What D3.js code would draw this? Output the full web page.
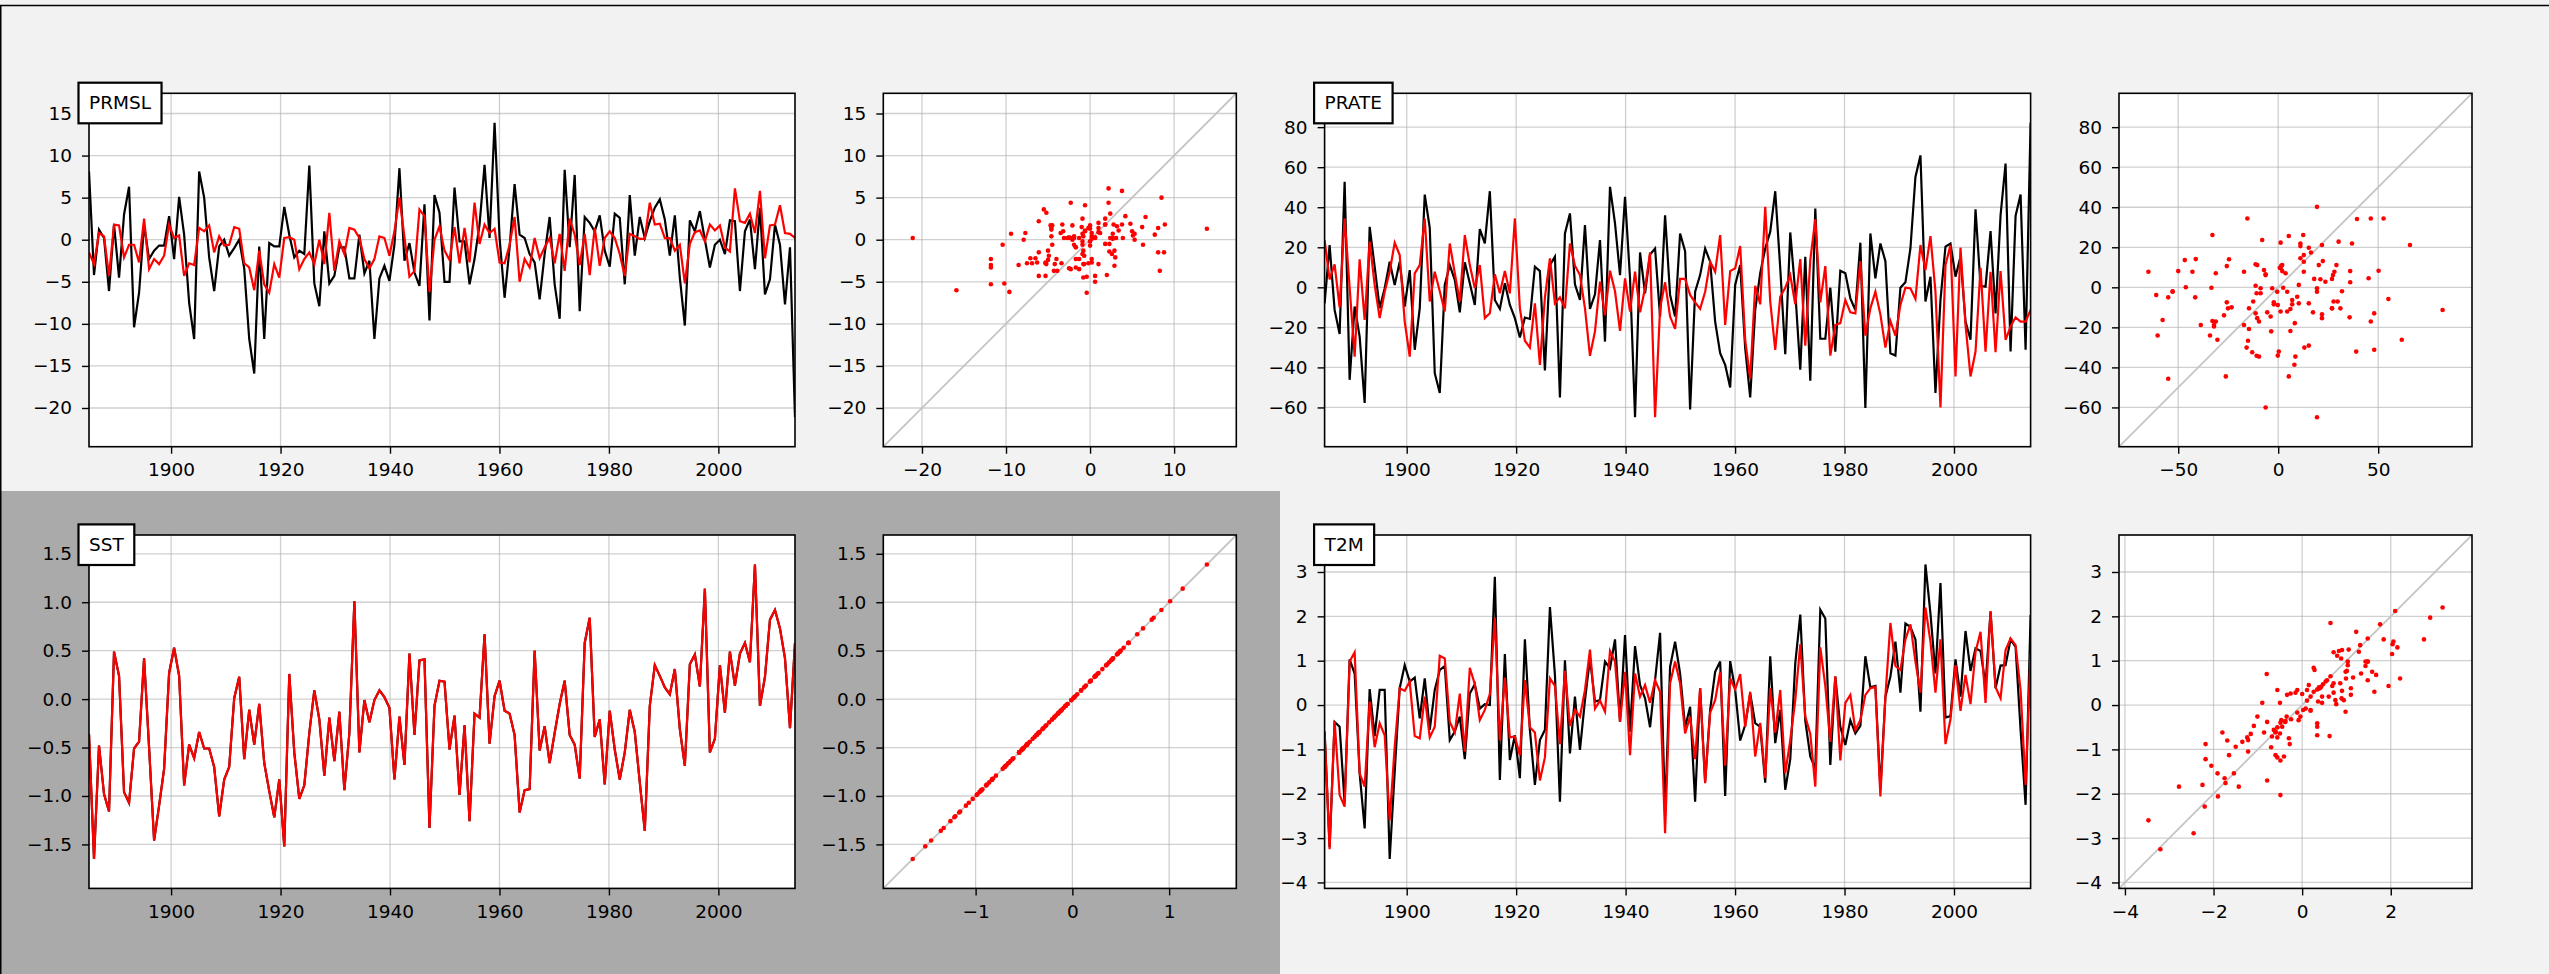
<!DOCTYPE html>
<html>
<head>
<meta charset="utf-8">
<script src="https://cdn.jsdelivr.net/npm/d3@7"></script>
<style>
  html, body { margin: 0; padding: 0; background: #f2f2f2; }
  svg { display: block; font-family: "DejaVu Sans", sans-serif; }
</style>
</head>
<body>
<svg id="fig" width="2549" height="974"></svg>
<script>
// ---- time axis: evenly spaced samples between these two years ----
const YEAR_START = 1885;
const YEAR_END = 2014;

// ---- sea-level pressure anomaly: observed (black) and model (red) ----
const prmslObs = [
  8.1, -4.2, 1.2, 0.2, -6.1, 1.8, -4.5, 3.0, 6.3, -10.4,
  -6.3, 1.8, -2.3, -1.3, -0.7, -0.7, 2.8, -2.3, 5.1, 0.6,
  -7.5, -11.8, 8.1, 5.0, -2.1, -6.1, -0.8, 0.0, -1.9, -1.0,
  0.0, -3.4, -11.8, -15.9, -0.8, -11.8, -0.4, -0.8, -0.8, 3.9,
  0.6, -2.1, -1.3, -1.7, 8.8, -5.2, -7.9, 1.0, -5.2, -4.3,
  -0.9, -0.9, -4.6, -4.6, 0.6, -4.0, -2.5, -11.8, -4.6, -3.1,
  -4.9, -0.6, 8.5, -2.5, -0.4, -3.9, -5.5, 4.2, -9.6, 5.3,
  3.2, -5.0, -5.0, 6.2, -0.2, -0.2, -5.3, -2.3, 1.8, 8.9,
  0.2, 13.9, 0.2, -6.9, -0.9, 6.6, 0.6, 0.2, -1.7, -2.7,
  -7.1, -1.7, 2.7, -5.3, -9.4, 8.3, -0.9, 7.7, -8.5, 2.7,
  2.0, 1.0, 2.9, -1.3, -3.2, 3.1, 2.6, -5.3, 5.3, -1.9,
  2.7, 0.2, 2.2, 3.8, 4.8, 2.4, -1.9, 2.9, -4.5, -10.2,
  2.3, 1.0, 3.4, 0.0, -3.3, -0.6, 0.0, -1.7, 2.3, 2.2,
  -6.1, 1.0, 2.4, -3.5, 3.8, -6.5, -4.7, 1.8, -0.6, -7.7,
  -0.9, -21.1
];
const prmslMod = [
  -1.5, -2.9, 0.8, 0.4, -4.3, 1.8, 1.7, -2.1, -0.6, -0.6,
  -2.7, 2.5, -3.5, -2.3, -2.9, -1.9, 1.8, 0.2, 0.5, -4.3,
  -2.8, -3.0, 1.4, 1.0, 1.7, -1.5, 0.4, -0.7, -0.6, 1.5,
  1.3, -2.8, -3.3, -6.0, -1.3, -5.3, -6.3, -2.9, -4.5, 0.2,
  0.3, 0.0, -3.5, -2.3, -1.5, -2.9, 0.0, -2.9, 3.2, -3.7,
  -0.2, -1.7, 1.4, 1.2, 0.2, -2.3, -3.4, -2.3, 0.4, 0.2,
  -1.9, 1.0, 5.0, 0.3, -4.4, -3.7, 3.6, 2.8, -6.2, 0.0,
  1.6, -1.3, -2.4, 1.5, -2.8, 1.4, -2.7, 4.4, -0.5, 1.8,
  0.8, 1.3, -2.7, -2.8, -0.6, 2.7, -5.0, -2.3, -3.3, 0.2,
  -2.2, -0.9, 0.2, -2.8, 0.7, -3.7, 2.5, 0.6, -3.0, 0.7,
  -4.2, 1.4, -3.1, 0.2, 1.0, 0.2, -1.7, -4.3, 0.7, 0.4,
  0.1, 0.1, 4.4, 1.8, 1.9, 0.2, 0.2, -1.3, -0.6, -5.2,
  -0.5, 0.9, 1.1, -0.2, 1.8, 1.1, 1.7, -0.9, -1.4, 6.1,
  2.2, 2.0, 3.1, 0.8, 5.8, -2.2, 1.7, 1.8, 4.1, 0.8,
  0.7, 0.2
];

// ---- precipitation rate anomaly ----
const prateObs = [
  -8.0, 21.1, -11.3, -23.3, 52.7, -46.2, -9.6, -24.6, -57.8, 30.2,
  10.3, -10.5, -0.5, 12.8, 1.2, 12.8, -9.6, 8.6, -31.2, -10.5,
  46.3, 29.7, -42.9, -52.8, 1.2, 11.1, 3.7, -12.5, 12.5, 2.0,
  -8.8, 29.1, 21.9, 48.0, -6.3, -10.8, 2.0, -8.8, -15.4, -25.1,
  -15.1, -15.8, 10.3, 8.1, -41.5, 11.1, 15.3, -55.0, 26.9, 36.9,
  1.5, -6.3, 31.1, -10.8, -3.5, 23.6, -27.1, 50.2, 31.9, 6.1,
  45.2, 4.5, -64.9, 17.4, -3.0, 16.4, 19.4, -14.6, 36.0, -3.8,
  -14.6, 26.9, 18.0, -61.0, -2.2, 6.1, 19.4, 12.8, -17.1, -32.9,
  -38.7, -50.0, 1.2, 11.1, -30.4, -55.0, -11.3, 7.0, 19.4, 27.7,
  48.0, 9.5, -33.4, 27.4, -2.2, -41.2, 15.3, -46.7, 39.4, -25.7,
  -25.7, -0.2, -32.1, 8.3, 7.0, -5.5, -11.3, 22.3, -60.3, 26.9,
  4.5, 21.9, 13.1, -32.9, -34.1, -0.2, 2.5, 19.4, 55.1, 65.9,
  -7.1, 5.3, -52.8, -6.3, 20.3, 21.9, 5.3, 15.3, -17.1, -26.2,
  39.0, 0.8, 0.3, 28.1, -13.0, 36.0, 61.8, -32.1, 35.7, 46.3,
  -31.2, 82.2
];
const prateMod = [
  23.6, 4.0, 11.5, -10.0, 34.4, 0.0, -34.6, 14.0, -16.3, 22.8,
  1.2, -15.4, -2.2, 7.8, 22.3, 16.1, -17.1, -34.6, 7.0, 11.1,
  34.4, -7.1, 7.8, -2.0, -12.1, 21.9, 7.0, -7.1, 26.1, 11.1,
  -0.5, 11.1, -15.4, -13.0, 6.5, -3.0, 8.1, -3.0, 34.4, -10.5,
  -26.7, -30.1, -8.0, -38.7, -5.0, 14.5, -8.0, -5.0, -10.5, 21.9,
  10.8, 6.1, -10.5, -34.2, -22.0, 2.8, -14.0, 8.3, -2.0, -21.8,
  4.5, -12.1, 7.8, -12.5, -0.5, 17.4, -64.9, -10.5, 2.5, -14.6,
  -20.8, 4.2, 4.2, -3.8, -7.5, -10.8, -2.2, 12.8, 7.8, 26.1,
  -18.8, 8.1, 9.5, 20.6, -26.2, -45.7, 0.8, -8.5, 40.2, -7.1,
  -31.2, -4.7, -0.2, 6.1, -8.5, 14.1, -29.1, 13.6, 34.1, -7.5,
  10.6, -34.1, -18.8, -17.9, -6.3, -12.5, -13.0, 13.1, -24.1, -10.5,
  -2.2, -13.5, -30.1, -16.8, -24.1, -8.8, -0.2, -0.5, -5.8, 21.1,
  8.6, 25.6, -2.2, -60.0, 11.1, 21.1, -44.5, 19.8, -18.8, -44.5,
  -32.1, 9.8, -32.1, 7.8, -32.4, 8.1, -26.2, -19.6, -15.0, -17.1,
  -17.1, -11.3
];

// ---- sea surface temperature anomaly (model reproduces the observations) ----
const sstObs = [
  -0.36, -1.65, -0.48, -0.98, -1.16, 0.49, 0.24, -0.96, -1.07, -0.51,
  -0.44, 0.42, -0.50, -1.46, -1.10, -0.72, 0.27, 0.53, 0.24, -0.89,
  -0.47, -0.61, -0.34, -0.51, -0.51, -0.70, -1.21, -0.83, -0.70, 0.01,
  0.23, -0.62, -0.11, -0.47, -0.05, -0.66, -0.95, -1.22, -0.83, -1.52,
  0.26, -0.55, -1.03, -0.89, -0.35, 0.09, -0.21, -0.79, -0.19, -0.64,
  -0.13, -0.94, -0.35, 1.01, -0.55, -0.01, -0.24, -0.01, 0.09, 0.02,
  -0.09, -0.83, -0.18, -0.68, 0.47, -0.37, 0.40, 0.41, -1.33, -0.07,
  0.19, 0.18, -0.52, -0.17, -0.99, -0.27, -1.26, -0.15, -0.19, 0.67,
  -0.46, 0.03, 0.19, -0.12, -0.15, -0.37, -1.17, -0.94, -0.93, 0.50,
  -0.53, -0.28, -0.66, -0.35, -0.05, 0.19, -0.37, -0.47, -0.82, 0.58,
  0.84, -0.39, -0.21, -0.88, -0.12, -0.52, -0.83, -0.55, -0.11, -0.34,
  -0.86, -1.36, -0.07, 0.35, 0.24, 0.12, 0.05, 0.31, -0.31, -0.69,
  0.36, 0.46, 0.13, 1.14, -0.55, -0.41, 0.35, -0.14, 0.49, 0.14,
  0.47, 0.58, 0.38, 1.39, -0.07, 0.23, 0.82, 0.92, 0.73, 0.42,
  -0.30, 0.58
];
const sstMod = sstObs.slice();

// ---- 2 m air temperature anomaly ----
const t2mObs = [
  -0.60, -3.20, -0.38, -0.49, -2.20, 1.03, 0.71, -1.54, -2.78, 0.36,
  -0.70, 0.34, 0.34, -3.47, -1.50, 0.38, 0.90, 0.53, 0.62, -0.30,
  0.60, -0.56, 0.34, 0.79, 0.88, -0.79, -0.60, -0.26, -1.22, 0.26,
  0.47, -0.08, 0.02, 0.00, 2.89, -1.69, 1.15, -1.24, -0.68, -1.65,
  1.48, -0.56, -1.80, -0.79, -0.56, 2.21, 0.68, -2.18, 1.01, -1.09,
  0.19, -1.01, 0.11, 1.05, 0.08, 0.11, 0.98, 0.83, 1.48, -0.38,
  1.58, -0.60, 1.33, 0.45, 0.15, -0.50, 0.56, 1.63, -2.45, 0.86,
  1.43, 0.71, -0.50, -0.04, -2.18, 0.38, -1.73, -0.11, 0.75, 0.98,
  -2.05, 0.99, 0.34, -0.80, -0.45, 0.26, -0.41, -0.49, -1.75, 1.10,
  -0.86, -0.11, -1.91, -1.22, 0.94, 2.04, -0.35, -1.16, -1.43, 2.15,
  1.95, -1.35, 0.64, -0.49, -0.90, -0.34, -0.64, -0.47, 1.10, 0.40,
  0.43, -1.90, 0.19, 0.64, 1.43, 0.28, 1.84, 1.76, 1.48, -0.15,
  3.17, 2.06, 0.71, 2.75, -0.28, -0.25, 1.03, 0.19, 1.67, 0.77,
  1.28, 1.22, 0.45, 2.10, 0.38, 0.89, 0.90, 1.48, 1.31, -0.56,
  -2.25, 2.03
];
const t2mMod = [
  -0.60, -3.25, -0.36, -2.03, -2.29, 0.98, 1.19, -1.54, -1.84, 0.08,
  -0.95, -0.41, -0.68, -2.60, -0.94, 0.38, 0.32, 0.53, -0.70, -0.75,
  0.19, -0.73, -0.49, 1.11, 1.05, -0.38, -0.62, 0.26, -1.05, 0.84,
  0.47, -0.34, -0.11, 0.25, 1.97, -0.80, 0.62, -0.73, -0.71, -1.13,
  0.56, -0.50, -0.62, -1.70, -1.18, 0.60, 0.43, -0.88, 0.77, -0.47,
  -0.11, -0.26, 0.34, 1.25, -0.08, 0.10, -0.15, 1.22, 0.98, -0.38,
  0.75, -1.13, 0.71, 0.19, 0.45, 0.05, 0.56, 0.30, -2.89, 0.49,
  0.98, 0.49, -0.64, -0.26, -1.22, 0.38, -1.76, -0.17, 0.11, 0.75,
  -1.37, 0.60, 0.35, 0.70, -0.49, 0.30, -1.16, -0.40, -1.65, 0.38,
  -0.62, 0.34, -1.54, -0.79, 0.11, 1.37, -0.26, -0.65, -1.84, 1.30,
  0.43, -0.83, 0.65, -1.25, 0.05, 0.23, -0.56, -0.34, 0.23, 0.38,
  0.41, -2.06, 0.19, 1.85, 0.88, 0.79, 1.48, 1.82, 0.98, 0.28,
  2.20, 1.43, 0.28, 1.48, -0.88, -0.32, 0.90, -0.13, 0.68, 0.02,
  1.20, 1.65, 0.05, 2.12, 0.40, 0.15, 1.24, 1.50, 1.35, 0.34,
  -1.80, 1.15
];

// ---- tick values ----
const yearTicks = [1900, 1920, 1940, 1960, 1980, 2000];
const prmslTicks = [-20, -15, -10, -5, 0, 5, 10, 15];
const prmslScatterTicks = [-20, -10, 0, 10];
const prateTicks = [-60, -40, -20, 0, 20, 40, 60, 80];
const prateScatterTicks = [-50, 0, 50];
const sstTicks = [-1.5, -1.0, -0.5, 0.0, 0.5, 1.0, 1.5];
const sstScatterTicks = [-1, 0, 1];
const t2mTicks = [-4, -3, -2, -1, 0, 1, 2, 3];
const t2mScatterTicks = [-4, -2, 0, 2];

// ---- figure layout (pixels) ----
const W = 2549, H = 974;
const TS_W = 706, SC_W = 353, PANEL_H = 353.4;
const COL_TS = [89, 1324.6];
const COL_SC = [883.3, 2119];
const ROW_TOP = [93.3, 535];
const FONT = 18.5;

const panels = [
  { name: "PRMSL", obs: prmslObs, mod: prmslMod, col: 0, row: 0,
    yTicks: prmslTicks, yFmt: d3.format("d"), sTicks: prmslScatterTicks, sFmt: d3.format("d") },
  { name: "PRATE", obs: prateObs, mod: prateMod, col: 1, row: 0,
    yTicks: prateTicks, yFmt: d3.format("d"), sTicks: prateScatterTicks, sFmt: d3.format("d") },
  { name: "SST", obs: sstObs, mod: sstMod, col: 0, row: 1,
    yTicks: sstTicks, yFmt: d3.format(".1f"), sTicks: sstScatterTicks, sFmt: d3.format("d") },
  { name: "T2M", obs: t2mObs, mod: t2mMod, col: 1, row: 1,
    yTicks: t2mTicks, yFmt: d3.format("d"), sTicks: t2mScatterTicks, sFmt: d3.format("d") }
];

const svg = d3.select("#fig");

// figure background with the shaded lower-left block and the outer edge
svg.append("rect").attr("x", 0).attr("y", 0).attr("width", W).attr("height", H).attr("fill", "#f2f2f2");
svg.append("rect").attr("x", 0).attr("y", 491).attr("width", 1280).attr("height", H - 491).attr("fill", "#aaaaaa");
svg.append("line").attr("x1", 0).attr("x2", W).attr("y1", 5.5).attr("y2", 5.5)
  .attr("stroke", "#000").attr("stroke-width", 1.5);
svg.append("line").attr("x1", 0.75).attr("x2", 0.75).attr("y1", 5).attr("y2", H)
  .attr("stroke", "#000").attr("stroke-width", 1.5);

const defs = svg.append("defs");
let clipId = 0;

function drawAxesBox(g, left, top, w, h, xScale, yScale, xTicks, xFmt, yTicks, yFmt) {
  const id = "clip" + (clipId++);
  defs.append("clipPath").attr("id", id)
    .append("rect").attr("x", left).attr("y", top).attr("width", w).attr("height", h);

  g.append("rect").attr("x", left).attr("y", top).attr("width", w).attr("height", h).attr("fill", "#fff");

  const grid = g.append("g").attr("clip-path", `url(#${id})`)
    .attr("stroke", "#b0b0b0").attr("stroke-opacity", 0.6).attr("stroke-width", 1.3);
  grid.selectAll("line.gx").data(xTicks).join("line").attr("class", "gx")
    .attr("x1", d => xScale(d)).attr("x2", d => xScale(d)).attr("y1", top).attr("y2", top + h);
  grid.selectAll("line.gy").data(yTicks).join("line").attr("class", "gy")
    .attr("y1", d => yScale(d)).attr("y2", d => yScale(d)).attr("x1", left).attr("x2", left + w);

  // x axis
  const xAxis = d3.axisBottom(xScale).tickValues(xTicks).tickFormat(xFmt).tickSize(7).tickPadding(9);
  const gx = g.append("g").attr("transform", `translate(0,${top + h})`).call(xAxis);
  // y axis
  const yAxis = d3.axisLeft(yScale).tickValues(yTicks).tickFormat(yFmt).tickSize(7).tickPadding(10);
  const gy = g.append("g").attr("transform", `translate(${left},0)`).call(yAxis);
  [gx, gy].forEach(a => {
    a.select(".domain").remove();
    a.selectAll(".tick line").attr("stroke", "#000").attr("stroke-width", 1.4);
    a.selectAll(".tick text").attr("fill", "#000").style("font-size", FONT + "px")
      .style("font-family", '"DejaVu Sans", sans-serif');
  });
  return id;
}

function drawFrame(g, left, top, w, h) {
  g.append("rect").attr("x", left).attr("y", top).attr("width", w).attr("height", h)
    .attr("fill", "none").attr("stroke", "#000").attr("stroke-width", 1.6);
}

panels.forEach(p => {
  const top = ROW_TOP[p.row];
  const n = p.obs.length;
  const times = d3.range(n).map(k => YEAR_START + k * (YEAR_END - YEAR_START) / (n - 1));
  const all = p.obs.concat(p.mod);
  const lo = d3.min(all), hi = d3.max(all), pad = 0.1 * (hi - lo);
  const lim = [lo - pad, hi + pad];

  // ---- time series ----
  const tl = COL_TS[p.col];
  const g = svg.append("g");
  const x = d3.scaleLinear().domain([YEAR_START, YEAR_END]).range([tl, tl + TS_W]);
  const y = d3.scaleLinear().domain(lim).range([top + PANEL_H, top]);
  const cid = drawAxesBox(g, tl, top, TS_W, PANEL_H, x, y, yearTicks, d3.format("d"), p.yTicks, p.yFmt);
  const line = d3.line().x((d, i) => x(times[i])).y(d => y(d));
  const lines = g.append("g").attr("clip-path", `url(#${cid})`).attr("fill", "none")
    .attr("stroke-width", 2.2).attr("stroke-linejoin", "miter").attr("stroke-miterlimit", 4);
  lines.append("path").datum(p.obs).attr("d", line).attr("stroke", "#000");
  lines.append("path").datum(p.mod).attr("d", line).attr("stroke", "#ff0000");
  drawFrame(g, tl, top, TS_W, PANEL_H);

  // name box in the upper-left corner
  const box = g.append("g");
  const label = box.append("text").attr("x", tl).attr("y", top + 15.7)
    .style("font-size", FONT + "px").attr("fill", "#000").text(p.name);
  const tw = label.node().getComputedTextLength();
  box.insert("rect", "text").attr("x", tl - 10.5).attr("y", top - 10.6)
    .attr("width", tw + 21).attr("height", 40.6)
    .attr("fill", "#fff").attr("stroke", "#000").attr("stroke-width", 2.2);

  // ---- scatter: observed vs model ----
  const sl = COL_SC[p.col];
  const gs = svg.append("g");
  const sx = d3.scaleLinear().domain(lim).range([sl, sl + SC_W]);
  const sy = d3.scaleLinear().domain(lim).range([top + PANEL_H, top]);
  const sid = drawAxesBox(gs, sl, top, SC_W, PANEL_H, sx, sy, p.sTicks, p.sFmt, p.yTicks, p.yFmt);
  const inner = gs.append("g").attr("clip-path", `url(#${sid})`);
  inner.append("line")
    .attr("x1", sx(lim[0])).attr("y1", sy(lim[0])).attr("x2", sx(lim[1])).attr("y2", sy(lim[1]))
    .attr("stroke", "#c4c4c4").attr("stroke-width", 1.8);
  inner.selectAll("circle").data(p.obs.map((v, i) => [v, p.mod[i]])).join("circle")
    .attr("cx", d => sx(d[0])).attr("cy", d => sy(d[1])).attr("r", 2.3).attr("fill", "#ff0000");
  drawFrame(gs, sl, top, SC_W, PANEL_H);
});
</script>
</body>
</html>
